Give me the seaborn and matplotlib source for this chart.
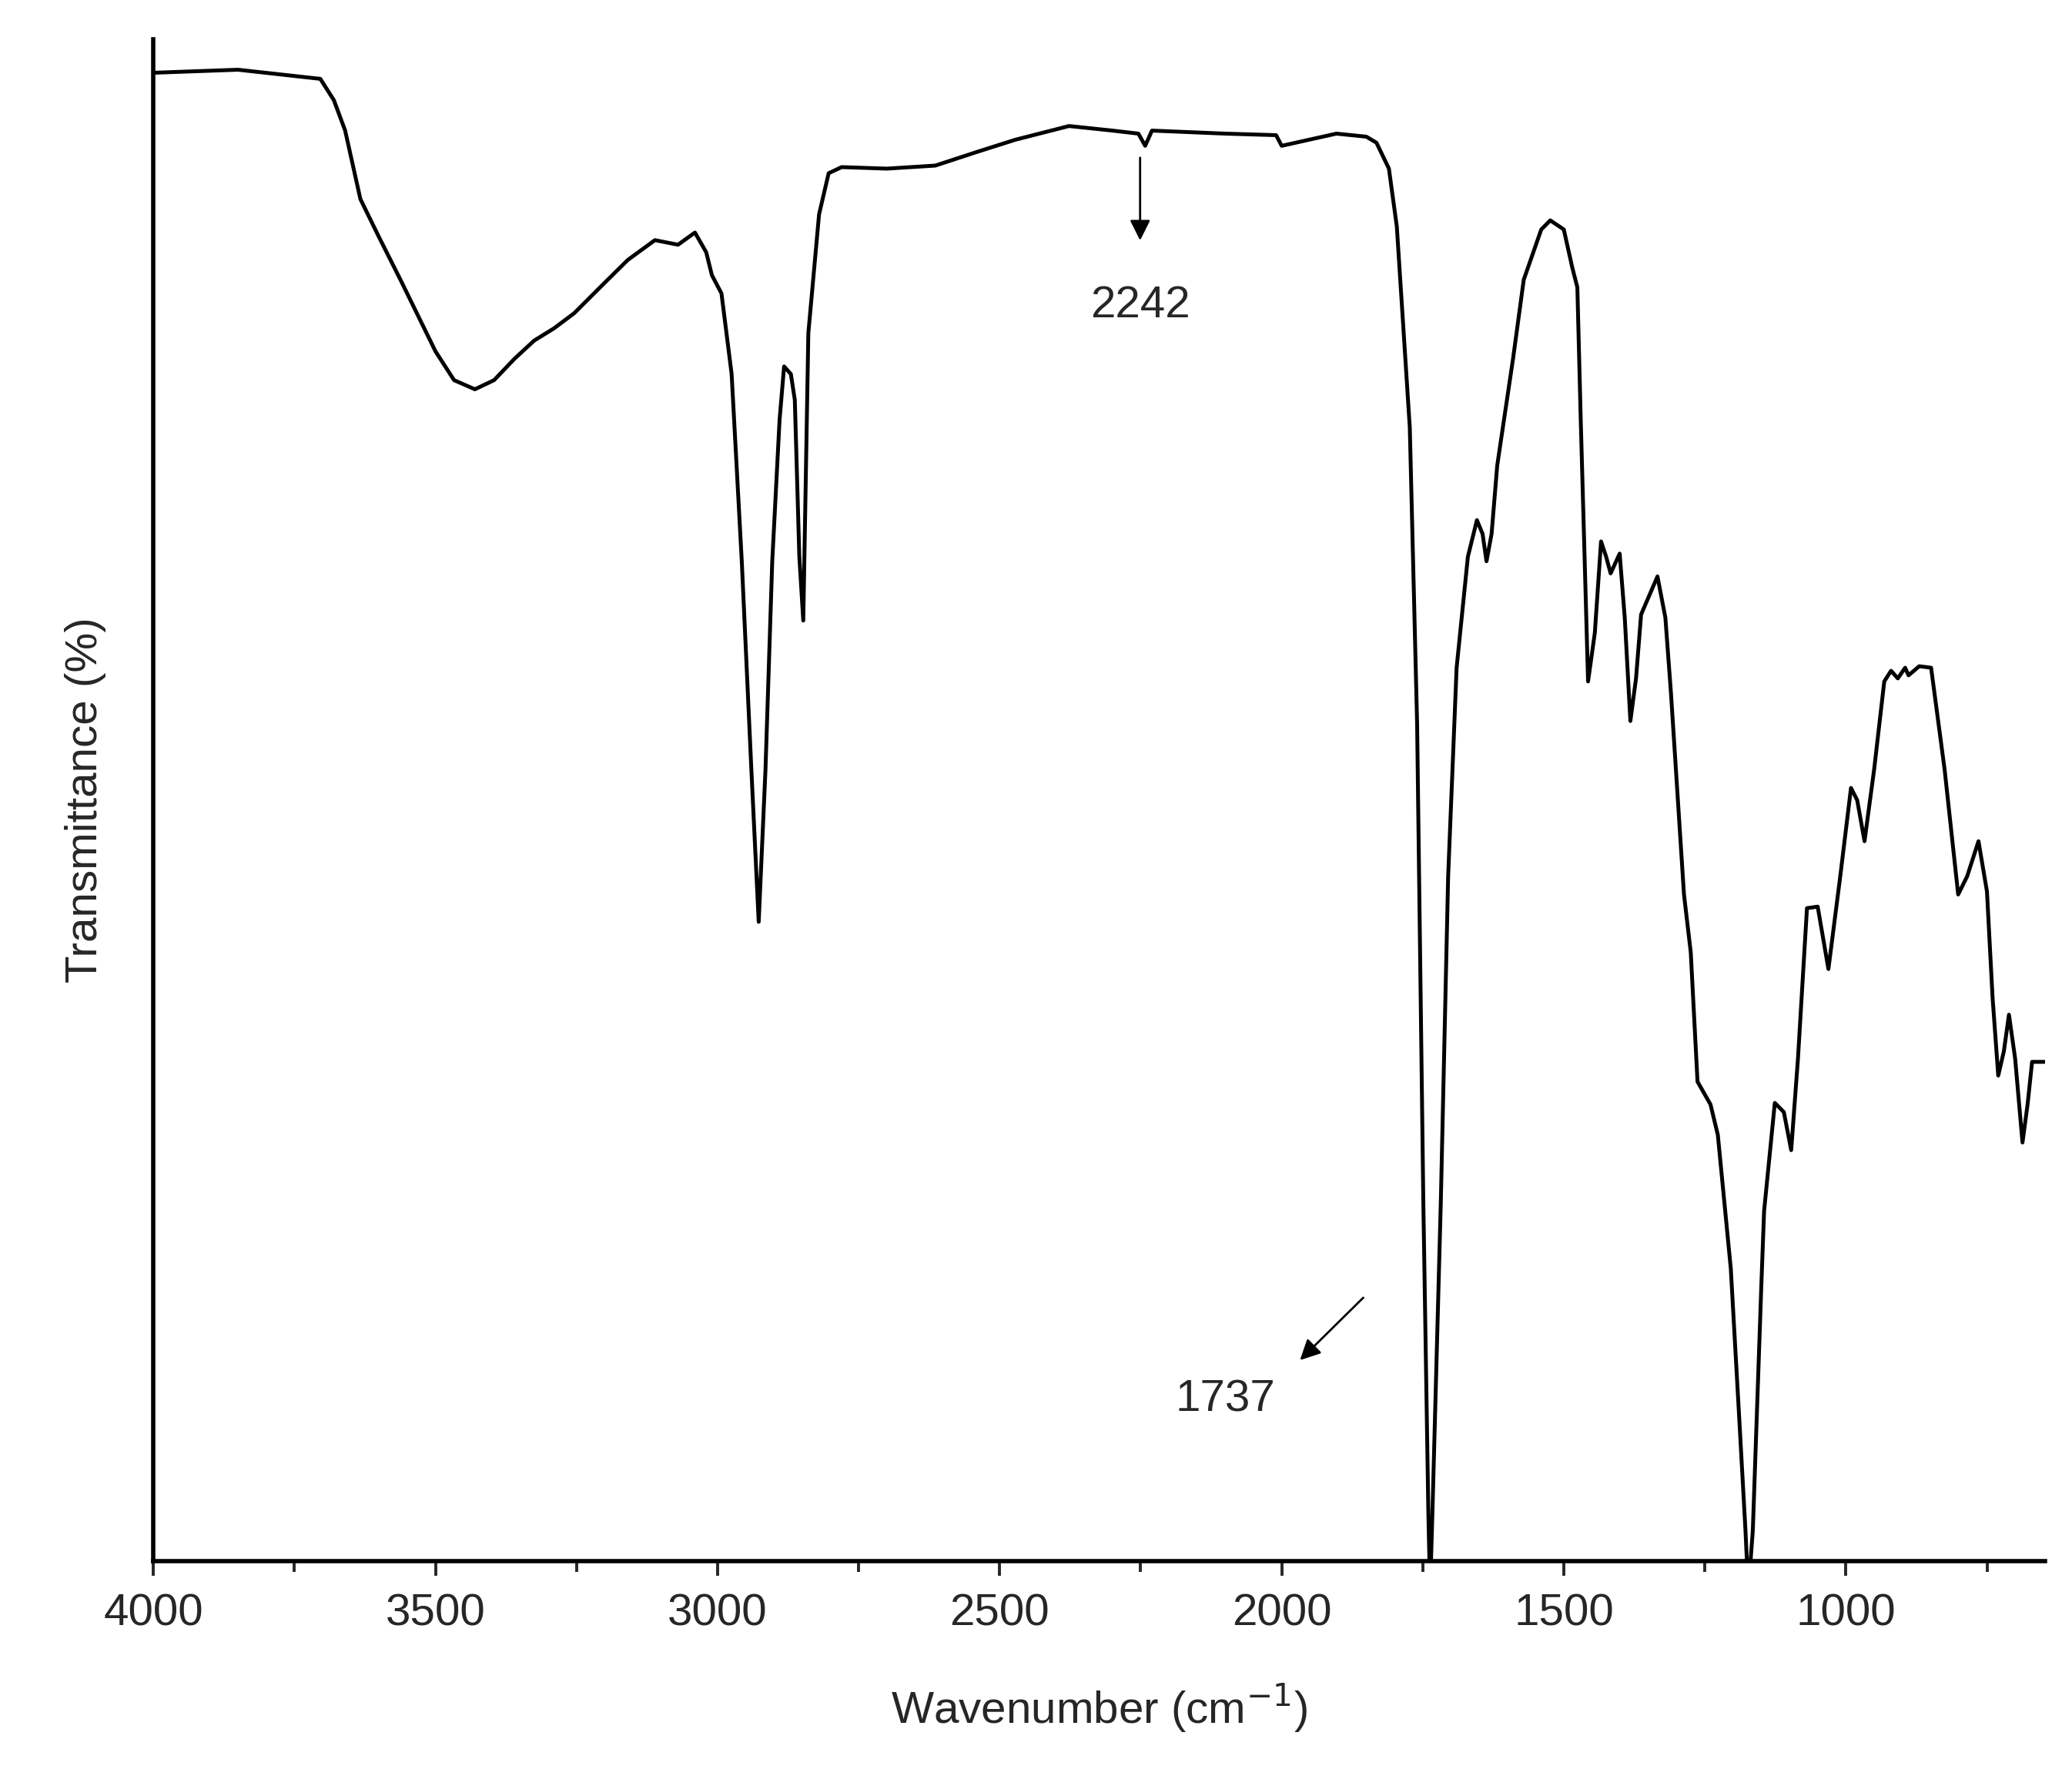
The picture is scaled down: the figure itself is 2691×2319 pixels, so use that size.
import numpy as np
import pandas as pd
import matplotlib
matplotlib.use("Agg")
import matplotlib.pyplot as plt
from matplotlib.ticker import MultipleLocator
import seaborn as sns

sns.set_style("white")
plt.rcParams['font.family'] = ['Liberation Sans', 'DejaVu Sans']

# FTIR spectrum (wavenumber in cm-1, transmittance in arbitrary %)
wavenumber = [4000, 3850, 3704, 3680, 3660, 3633, 3600, 3562, 3500, 3467, 3430, 3396, 3360, 3325, 3290,
              3254, 3200, 3159, 3111, 3070, 3040, 3020, 3010, 2993, 2975, 2957, 2940, 2927, 2915, 2903,
              2890, 2882, 2870, 2863, 2855, 2848, 2839, 2820, 2803, 2780, 2700, 2614, 2540, 2472, 2377,
              2300, 2254, 2242, 2230, 2100, 2010, 2000, 1903, 1850, 1832, 1810, 1796, 1773, 1760, 1749,
              1740, 1737, 1733, 1718, 1705, 1690, 1670, 1654, 1644, 1637, 1628, 1618, 1590, 1571, 1540,
              1524, 1500, 1485, 1476, 1470, 1457, 1445, 1434, 1425, 1417, 1401, 1392, 1382, 1372, 1363,
              1334, 1320, 1310, 1287, 1275, 1263, 1240, 1227, 1204, 1190, 1178, 1173, 1165, 1150, 1145,
              1126, 1110, 1097, 1085, 1069, 1050, 1031, 1010, 991, 980, 967, 950, 932, 920, 908, 895,
              889, 870, 849, 825, 801, 785, 765, 750, 740, 730, 720, 711, 700, 687, 678, 670, 647]
transmittance = [97.8, 98.0, 97.4, 96.0, 94.0, 89.5, 87.0, 84.2, 79.5, 77.6, 77.0, 77.6, 79.0, 80.2, 81.0,
                 82.0, 84.0, 85.5, 86.8, 86.5, 87.3, 86.0, 84.5, 83.3, 78.0, 65.7, 52.0, 42.0, 52.0, 65.7,
                 75.0, 78.5, 78.0, 76.3, 66.0, 61.8, 80.7, 88.5, 91.2, 91.6, 91.5, 91.7, 92.6, 93.4, 94.3,
                 94.0, 93.8, 93.0, 94.0, 93.8, 93.7, 93.0, 93.8, 93.6, 93.2, 91.5, 87.7, 74.5, 55.0, 23.6,
                 3.0, -2.0, 3.0, 23.6, 45.0, 58.7, 66.0, 68.4, 67.5, 65.7, 67.5, 72.0, 79.0, 84.2, 87.5,
                 88.1, 87.5, 85.0, 83.7, 75.0, 57.8, 61.0, 67.0, 66.0, 64.9, 66.2, 62.0, 55.2, 58.0, 62.2,
                 64.7, 62.0, 57.0, 43.8, 40.0, 31.5, 30.0, 28.0, 19.2, 10.0, 2.0, -2.0, 2.0, 18.0, 23.0,
                 30.1, 29.5, 27.0, 33.0, 42.9, 43.0, 38.9, 45.0, 50.8, 50.0, 47.3, 52.0, 57.8, 58.5, 58.0,
                 58.7, 58.2, 58.8, 58.7, 52.0, 43.8, 45.0, 47.3, 44.0, 37.0, 31.9, 33.5, 35.9, 33.0, 27.5,
                 30.0, 32.8, 32.8]

df = pd.DataFrame({"Wavenumber": wavenumber, "Transmittance": transmittance})

fig = plt.figure(figsize=(13.455, 11.595), dpi=200)
ax = fig.add_axes([0.074, 0.126, 0.913, 0.852])
sns.lineplot(data=df, x="Wavenumber", y="Transmittance", sort=False, color="black", linewidth=1.8, ax=ax)

ax.set_xlim(4000, 647)
ax.set_ylim(0, 100)
ax.xaxis.set_major_locator(MultipleLocator(500))
ax.xaxis.set_minor_locator(MultipleLocator(250))
ax.set_yticks([])
ax.tick_params(axis="x", which="major", direction="out", length=7, width=1.4, labelsize=21, bottom=True, pad=8)
ax.tick_params(axis="x", which="minor", direction="out", length=5, width=1.4, bottom=True)
for s in ["top", "right"]:
    ax.spines[s].set_visible(False)
for s in ["left", "bottom"]:
    ax.spines[s].set_linewidth(2.0)
    ax.spines[s].set_color("black")

ax.set_xlabel("Wavenumber (cm$^{-1}$)", fontsize=21, labelpad=22)
ax.set_ylabel("Transmittance (%)", fontsize=21, labelpad=22)

ax.annotate("", xy=(2251, 86.5), xytext=(2251, 92.5),
            arrowprops=dict(arrowstyle="-|>", color="black", lw=1, mutation_scale=20))
ax.text(2251, 82.5, "2242", ha="center", va="center", fontsize=21)
ax.annotate("", xy=(1973, 13.0), xytext=(1850, 17.5),
            arrowprops=dict(arrowstyle="-|>", color="black", lw=1, mutation_scale=20))
ax.text(2100, 10.6, "1737", ha="center", va="center", fontsize=21)

fig.savefig("out.png", dpi=200)
